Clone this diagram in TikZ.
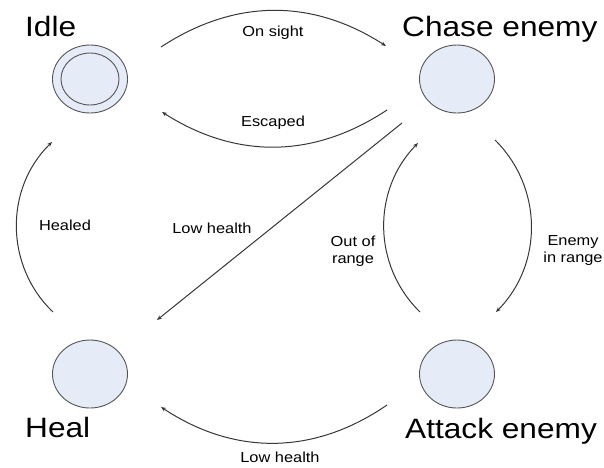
\documentclass[tikz,border=0pt]{standalone}
\usepackage{fontspec}
\setmainfont{Liberation Sans}[FakeStretch=1.13]
\usetikzlibrary{shapes.geometric,arrows.meta,calc}
\definecolor{statefill}{RGB}{230,236,247}
\definecolor{statedraw}{RGB}{85,85,85}
\definecolor{edgecol}{RGB}{55,55,55}
\begin{document}
\begin{tikzpicture}[x=1pt,y=-1pt,
  state/.style={ellipse,draw=statedraw,fill=statefill,line width=0.9pt,minimum width=75pt,minimum height=68pt,inner sep=0pt},
  inner/.style={ellipse,draw=statedraw,line width=0.9pt,minimum width=58pt,minimum height=52pt,inner sep=0pt},
  title/.style={font=\fontsize{28}{30}\selectfont,anchor=base west,inner sep=0pt},
  elabel/.style={font=\fontsize{14.5}{17}\selectfont,align=center,inner sep=0pt},
  arr/.style={draw=edgecol,line width=1pt,-{Stealth[length=5pt,width=4pt]}}]
\useasboundingbox (0,0) rectangle (604,467);
% states
\node[state] (idle) at (90,79) {};
\node[inner] (idlein) at (90,79) {};
\node[state] (chase) at (457,79) {};
\node[state] (heal) at (90,374) {};
\node[state] (attack) at (457,374) {};
% titles
\node[title] (tidle) at (25,36) {Idle};
\node[title] (tchase) at (402,36) {Chase enemy};
\node[title] (theal) at (25,437) {Heal};
\node[title] (tattack) at (405,438) {Attack enemy};
% connectors
\draw[arr] ($(idle)+(71,-32)$) to[bend left=33] ($(chase)+(-71,-33)$);
\draw[arr] ($(chase)+(-70,31)$) to[bend left=33] ($(idle)+(72,33)$);
\draw[arr] ($(chase)+(-55,44)$) -- ($(heal)+(67,-54)$);
\draw[arr] ($(attack)+(-37,-62)$) to[bend left=45] ($(chase)+(-39,64)$);
\draw[arr] ($(chase)+(38,61)$) to[bend left=45] ($(attack)+(39,-62)$);
\draw[arr] ($(heal)+(-37,-62)$) to[bend left=46] ($(idle)+(-38,63)$);
\draw[arr] ($(attack)+(-70,31)$) to[bend left=34] ($(heal)+(71,33)$);
% edge labels
\node[elabel] (lonsight) at (273,33) {On sight};
\node[elabel] (lescaped) at (273,123) {Escaped};
\node[elabel] (lhealed) at (65,225) {Healed};
\node[elabel] (llow1) at (212,228) {Low health};
\node[elabel] (lout) at (353,251) {Out of\\range};
\node[elabel] (lenemy) at (573,251) {Enemy\\in range};
\node[elabel] (llow2) at (280,457) {Low health};
\end{tikzpicture}
\end{document}
